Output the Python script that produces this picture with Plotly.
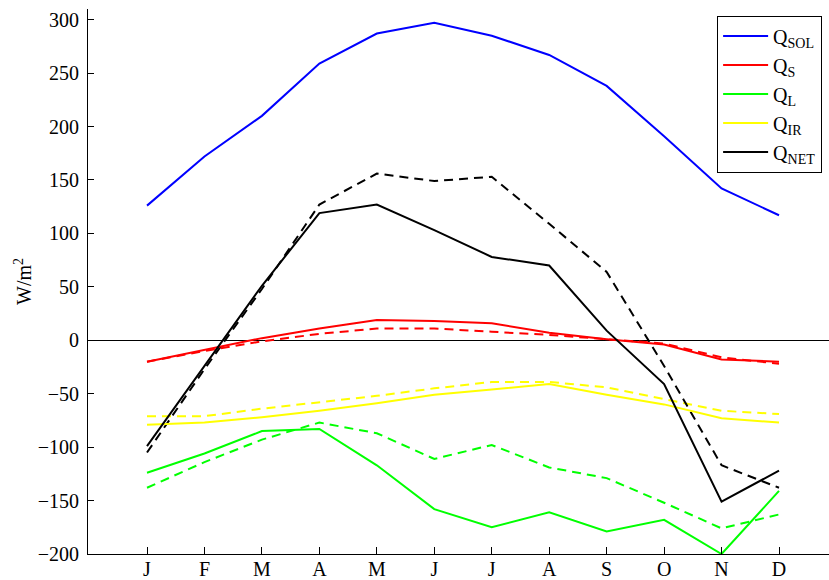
import plotly.graph_objects as go

months = ["J", "F", "M", "A", "M", "J", "J", "A", "S", "O", "N", "D"]
month_idx = list(range(1, 13))

q_sol = [126, 172, 210, 259, 287, 297, 285, 267, 238, 191, 142, 117]
q_s = [-20, -9, 2, 11, 19, 18, 16, 7, 1, -4, -18, -20]
q_s_alt = [-20, -10, -1, 6, 11, 11, 8, 5, 1, -3, -16, -22]
q_l = [-124, -106, -85, -83, -117, -158, -175, -161, -179, -168, -200, -141]
q_l_alt = [-138, -114, -93, -77, -87, -111, -98, -119, -129, -152, -176, -163]
q_ir = [-79, -77, -72, -66, -59, -51, -46, -41, -51, -60, -73, -77]
q_ir_alt = [-71, -71, -64, -58, -52, -45, -39, -39, -44, -55, -66, -69]
q_net = [-99, -24, 51, 119, 127, 103, 78, 70, 9, -41, -151, -122]
q_net_alt = [-105, -27, 48, 127, 156, 149, 153, 109, 64, -24, -117, -138]

y_ticks = [-200, -150, -100, -50, 0, 50, 100, 150, 200, 250, 300]

FONT = "Times New Roman, Liberation Serif, DejaVu Serif, serif"
DASH = "9px,6px"

series = [
    ("Q<sub>SOL</sub>", q_sol, None, "#0000FF"),
    ("Q<sub>S</sub>", q_s, q_s_alt, "#FF0000"),
    ("Q<sub>L</sub>", q_l, q_l_alt, "#00FF00"),
    ("Q<sub>IR</sub>", q_ir, q_ir_alt, "#FFFF00"),
    ("Q<sub>NET</sub>", q_net, q_net_alt, "#000000"),
]

fig = go.Figure()
for name, solid, dashed, color in series:
    if dashed is not None:
        fig.add_trace(go.Scatter(x=month_idx, y=dashed, mode="lines", showlegend=False,
                                 line=dict(color=color, width=2, dash=DASH), hoverinfo="skip"))
for name, solid, dashed, color in series:
    fig.add_trace(go.Scatter(x=month_idx, y=solid, mode="lines", name=name,
                             line=dict(color=color, width=2)))

fig.update_layout(
    width=829, height=580,
    margin=dict(l=88, r=0, t=9, b=26, autoexpand=False),
    paper_bgcolor="white", plot_bgcolor="white",
    font=dict(family=FONT, size=20, color="black"),
    showlegend=True,
    legend=dict(x=0.849, y=0.988, xanchor="left", yanchor="top",
                bordercolor="black", borderwidth=1, bgcolor="white",
                itemwidth=45,
                font=dict(family=FONT, size=20), traceorder="normal"),
    xaxis=dict(range=[-0.027, 12.87], tickvals=month_idx, ticktext=months,
               ticks="inside", ticklen=7, tickcolor="black", showline=True,
               linecolor="black", linewidth=1, showgrid=False, zeroline=False,
               automargin=False, ticklabelstandoff=-3,
               mirror=False, tickfont=dict(family=FONT, size=20)),
    yaxis=dict(range=[-200, 310], tickvals=y_ticks, ticks="inside", ticklen=6,
               tickcolor="black", showline=True, linecolor="black", linewidth=1,
               showgrid=False, zeroline=True, zerolinecolor="black", zerolinewidth=1,
               automargin=False,
               tickfont=dict(family=FONT, size=20), ticklabelstandoff=4,
               title=dict(text="W/m<sup>2</sup>", font=dict(family=FONT, size=20), standoff=0)),
)

fig.write_html(
    "out.html",
    config={"displayModeBar": False},
    post_script="document.body.style.margin='0';document.body.style.overflow='hidden';",
)
